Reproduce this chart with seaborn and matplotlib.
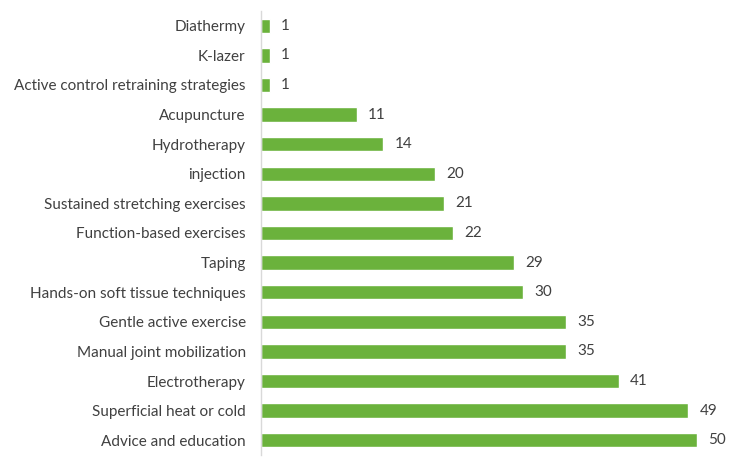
import matplotlib
matplotlib.use("Agg")
import matplotlib.pyplot as plt
import seaborn as sns
import pandas as pd

treatments = [
    "Diathermy", "K-lazer", "Active control retraining strategies",
    "Acupuncture", "Hydrotherapy", "injection",
    "Sustained stretching exercises", "Function-based exercises", "Taping",
    "Hands-on soft tissue techniques", "Gentle active exercise",
    "Manual joint mobilization", "Electrotherapy",
    "Superficial heat or cold", "Advice and education",
]
counts = [1, 1, 1, 11, 14, 20, 21, 22, 29, 30, 35, 35, 41, 49, 50]

df = pd.DataFrame({"treatment": treatments, "count": counts})

sns.set_style("white")
plt.rcParams["font.family"] = ["Lato", "DejaVu Sans"]

fig = plt.figure(figsize=(7.33, 4.66), dpi=100)
ax = fig.add_axes([261 / 733, 11 / 466, 436 / 733, 444 / 466])

sns.barplot(data=df, y="treatment", x="count", color="#6BB23C",
            saturation=1, width=0.48, ax=ax, orient="h")

for i, v in enumerate(counts):
    ax.text(v + 1.3, i, str(v), va="center", ha="left",
            fontsize=11, color="#404040", clip_on=False)

ax.set_xlim(0, 50)
ax.set_ylim(14.5, -0.5)
ax.set_xlabel("")
ax.set_ylabel("")
ax.set_xticks([])
ax.tick_params(axis="y", length=0, pad=11, labelsize=11, labelcolor="#404040")
for s in ["top", "right", "bottom"]:
    ax.spines[s].set_visible(False)
ax.spines["left"].set_color("#d9d9d9")
ax.spines["left"].set_linewidth(1)

fig.savefig("out.png", dpi=100)
